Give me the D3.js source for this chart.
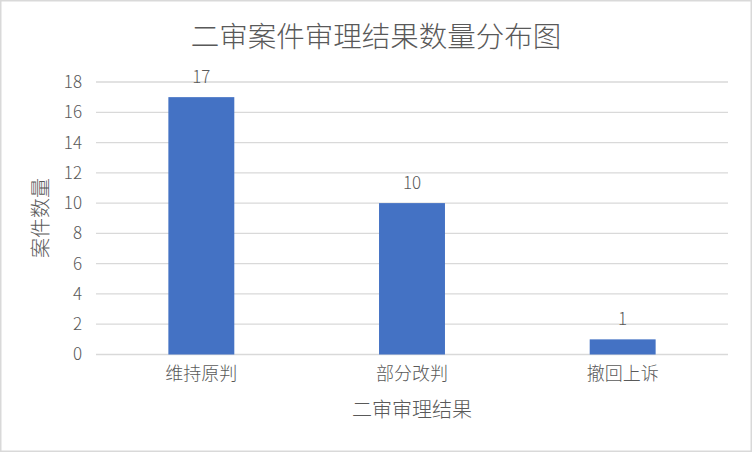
<!DOCTYPE html>
<html lang="zh">
  <head>
    <meta charset="UTF-8" />
    <title>二审案件审理结果数量分布图</title>
    <script src="https://cdn.jsdelivr.net/npm/d3@7"></script>
    <style>
      html, body {
        margin: 0;
        padding: 0;
        background: #fff;
      }
      svg {
        display: block;
        font-family: "Noto Sans CJK SC", "Noto Sans", sans-serif;
      }
      .grid line {
        stroke: #d9d9d9;
        stroke-width: 1.3;
      }
      .txt {
        fill: #595959;
        font-weight: 300;
      }
    </style>
  </head>
  <body>
    <svg width="752" height="452"></svg>

    <script>
      const categories = ['维持原判', '部分改判', '撤回上诉'];
      const counts = [17, 10, 1];
      const yTicks = [0, 2, 4, 6, 8, 10, 12, 14, 16, 18];

      const svg = d3.select('svg');
      const width = +svg.attr('width');
      const height = +svg.attr('height');
      const margin = { top: 82, right: 24, bottom: 97.5, left: 96 };
      const chartWidth = width - margin.left - margin.right;
      const chartHeight = height - margin.top - margin.bottom;

      // outer frame
      svg.append('rect')
        .attr('x', 0.75).attr('y', 0.75)
        .attr('width', width - 1.5).attr('height', height - 1.5)
        .attr('fill', '#fff')
        .attr('stroke', '#d9d9d9')
        .attr('stroke-width', 1.5);

      const x = d3.scaleBand().domain(categories).range([0, chartWidth]).padding(0);
      const y = d3.scaleLinear().domain([0, 18]).range([chartHeight, 0]);
      const barW = x.bandwidth() * 0.313;

      const chart = svg.append('g')
        .attr('transform', `translate(${margin.left},${margin.top})`);

      // gridlines
      chart.append('g')
        .attr('class', 'grid')
        .selectAll('line')
        .data(yTicks)
        .enter()
        .append('line')
        .attr('x1', 0)
        .attr('x2', chartWidth)
        .attr('y1', (d) => y(d))
        .attr('y2', (d) => y(d));

      // y axis labels
      const yAxis = chart.append('g')
        .call(d3.axisLeft(y).tickValues(yTicks).tickSize(0).tickPadding(14));
      yAxis.select('.domain').remove();
      yAxis.selectAll('text')
        .attr('class', 'txt')
        .style('font-size', '17px')
        .style('font-family', '"Noto Sans CJK SC", sans-serif');

      // x axis labels
      const xAxis = chart.append('g')
        .attr('transform', `translate(0,${chartHeight})`)
        .call(d3.axisBottom(x).tickSize(0).tickPadding(13));
      xAxis.select('.domain').remove();
      xAxis.selectAll('text')
        .attr('class', 'txt')
        .style('font-size', '18px')
        .style('font-family', '"Noto Sans CJK SC", sans-serif');

      // bars
      chart.selectAll('.bar')
        .data(categories)
        .enter()
        .append('rect')
        .attr('class', 'bar')
        .attr('x', (d) => x(d) + (x.bandwidth() - barW) / 2)
        .attr('y', (d, i) => y(counts[i]))
        .attr('width', barW)
        .attr('height', (d, i) => chartHeight - y(counts[i]))
        .attr('fill', '#4472c4');

      // data labels
      chart.selectAll('.lbl')
        .data(categories)
        .enter()
        .append('text')
        .attr('class', 'txt')
        .attr('x', (d) => x(d) + x.bandwidth() / 2)
        .attr('y', (d, i) => y(counts[i]) - 14)
        .attr('text-anchor', 'middle')
        .style('font-size', '17px')
        .text((d, i) => counts[i]);

      // title
      svg.append('text')
        .attr('class', 'txt')
        .attr('x', width / 2)
        .attr('y', 47)
        .attr('text-anchor', 'middle')
        .style('font-size', '28.5px')
        .text('二审案件审理结果数量分布图');

      // axis titles
      svg.append('text')
        .attr('class', 'txt')
        .attr('x', margin.left + chartWidth / 2)
        .attr('y', 417)
        .attr('text-anchor', 'middle')
        .style('font-size', '20px')
        .text('二审审理结果');

      svg.append('text')
        .attr('class', 'txt')
        .attr('transform', 'translate(48,218) rotate(-90)')
        .attr('text-anchor', 'middle')
        .style('font-size', '20px')
        .text('案件数量');
    </script>
  </body>
</html>
